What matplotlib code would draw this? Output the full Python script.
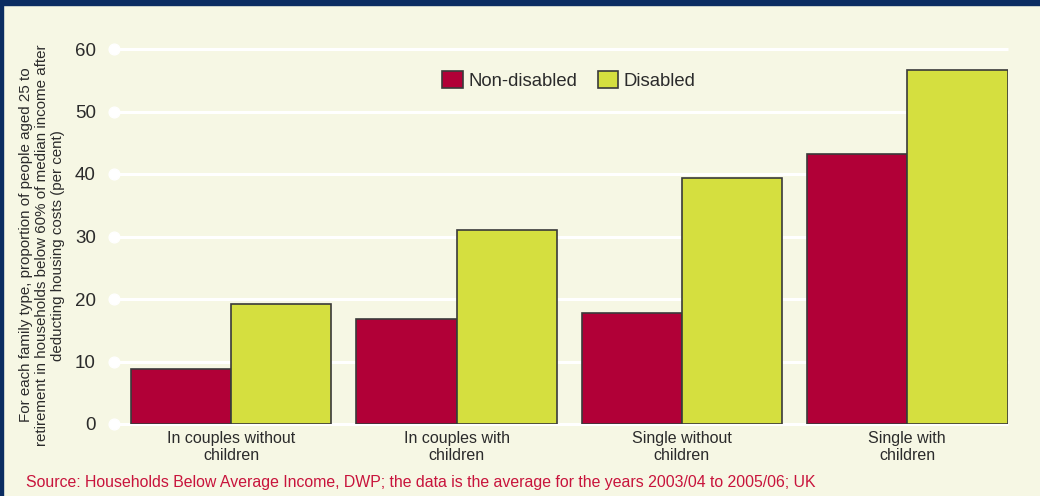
import matplotlib
matplotlib.use('Agg')
import matplotlib.pyplot as plt
from matplotlib.patches import Rectangle
import numpy as np

# data
categories = ['In couples without\nchildren', 'In couples with\nchildren',
              'Single without\nchildren', 'Single with\nchildren']
non_disabled = [8.8, 16.8, 17.8, 43.2]
disabled = [19.2, 31.0, 39.4, 56.6]
y_ticks = [0, 10, 20, 30, 40, 50, 60]

BG = '#f6f7e4'
RED = '#b10037'
YEL = '#d5df3f'
NAVY = '#0b2d62'
TXT = '#2b2b2b'

plt.rcParams['font.family'] = ['Liberation Sans', 'DejaVu Sans']

fig = plt.figure(figsize=(10.4, 4.96), dpi=100, facecolor=BG)
ax = fig.add_axes([114 / 1040, 72 / 496, 894 / 1040, 375 / 496])
ax.set_facecolor(BG)

x = np.arange(len(categories))
w = 0.445
x0, x1 = -0.52, 3 + w + 0.002
ax.set_xlim(x0, x1)
ax.set_ylim(0, 60)

# white gridlines with a round dot on the left end
ax.hlines(y_ticks, x0, x1, colors='white', linewidth=2.2, zorder=1, clip_on=False)
ax.scatter([x0] * len(y_ticks), y_ticks, s=60, color='white', zorder=1, clip_on=False)

# red bar left of the group centre, yellow bar right of it
ax.bar(x - w, non_disabled, width=w, align='edge', color=RED, edgecolor='#3a3a3a',
       linewidth=1.2, label='Non-disabled', zorder=2)
ax.bar(x, disabled, width=w, align='edge', color=YEL, edgecolor='#3a3a3a',
       linewidth=1.2, label='Disabled', zorder=2)

for sp in ax.spines.values():
    sp.set_visible(False)

ax.set_yticks(y_ticks)
ax.set_yticklabels([str(v) for v in y_ticks], fontsize=13.5, color=TXT)
ax.tick_params(axis='y', length=0, pad=13)
ax.set_xticks(x)
ax.set_xticklabels(categories, fontsize=11.5, color=TXT, linespacing=1.15)
ax.tick_params(axis='x', length=0, pad=5)

ax.set_ylabel('For each family type, proportion of people aged 25 to\n'
              'retirement in households below 60% of median income after\n'
              'deducting housing costs (per cent)',
              fontsize=10.9, color=TXT, linespacing=1.16)
ax.yaxis.set_label_coords(-0.055, 0.477)

ax.legend(loc='center', bbox_to_anchor=(0.509, 0.917), ncol=2, frameon=False,
          fontsize=13.3, handlelength=1.1, handleheight=1.1, handletextpad=0.32,
          columnspacing=1.1, labelcolor=TXT)

fig.text(26 / 1040, 1 - 483 / 496, 'Source: Households Below Average Income, DWP; the data is the '
         'average for the years 2003/04 to 2005/06; UK',
         fontsize=11.4, color='#c8143c', va='center', ha='left')

# navy frame on top and left
fig.patches.append(Rectangle((0, 1 - 5 / 496), 1, 5 / 496, transform=fig.transFigure,
                             color=NAVY, zorder=10))
fig.patches.append(Rectangle((0, 0), 3 / 1040, 1, transform=fig.transFigure,
                             color=NAVY, zorder=10))

fig.savefig('out.png', dpi=100, facecolor=BG)
